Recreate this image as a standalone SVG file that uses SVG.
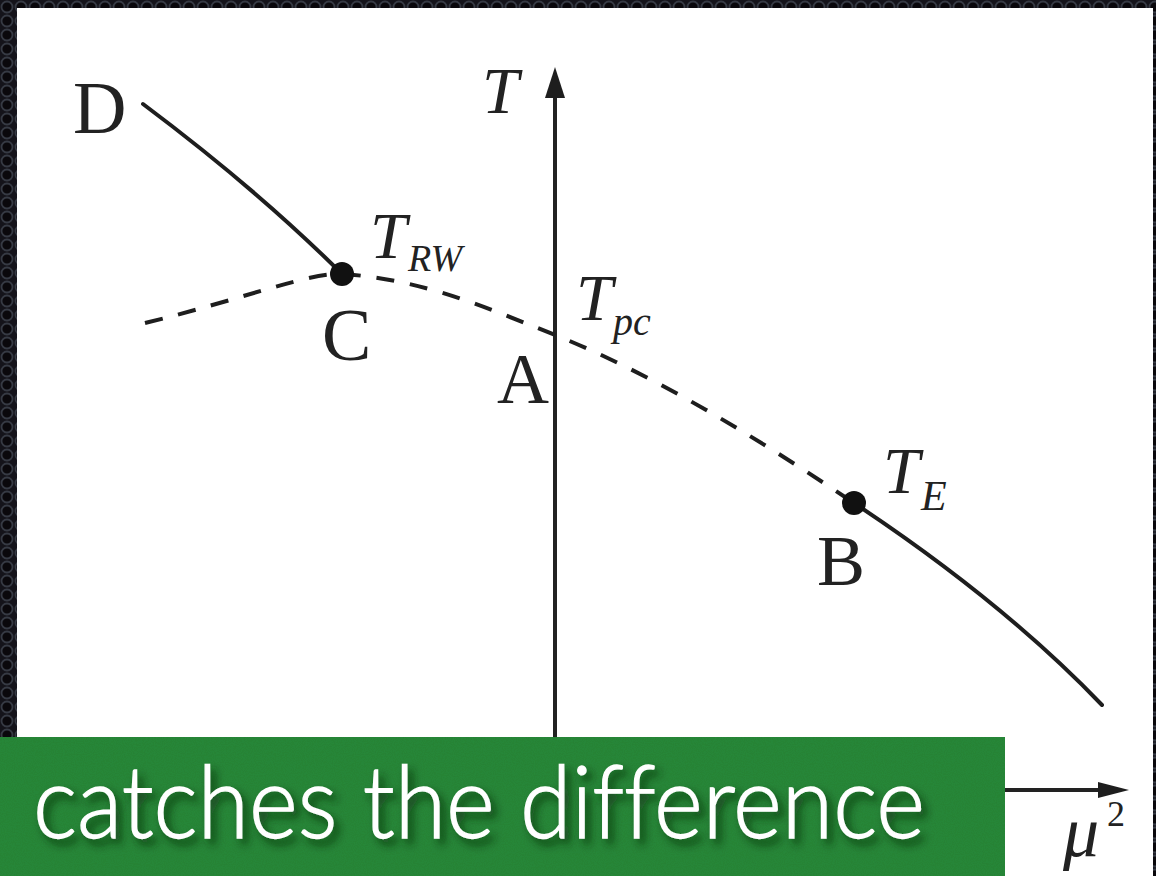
<svg xmlns="http://www.w3.org/2000/svg" width="1156" height="876" viewBox="0 0 1156 876">
  <defs>
    <pattern id="dots" x="0" y="0" width="14" height="14" patternUnits="userSpaceOnUse">
      <rect width="14" height="14" fill="#14131a"/>
      <circle cx="7" cy="7" r="5.5" fill="#0a080c" stroke="#363a44" stroke-width="1.8"/>
    </pattern>
    <filter id="noise" x="0" y="0" width="100%" height="100%">
      <feTurbulence type="fractalNoise" baseFrequency="0.9" numOctaves="2" seed="3" result="n"/>
      <feColorMatrix in="n" type="matrix" values="0 0 0 0 0  0 0 0 0 0  0 0 0 0 0  0 0 0 0.18 0" result="dark"/>
      <feComposite in="dark" in2="SourceGraphic" operator="in" result="d2"/>
      <feMerge><feMergeNode in="SourceGraphic"/><feMergeNode in="d2"/></feMerge>
    </filter>
    <filter id="shadow" x="-5%" y="-30%" width="110%" height="160%">
      <feDropShadow dx="5" dy="6" stdDeviation="4" flood-color="#0b2a10" flood-opacity="0.75"/>
    </filter>
  </defs>
  <style>
    .ax { stroke: #222; stroke-width: 4; fill: none; }
    .solid { stroke: #1e1e1e; stroke-width: 4; fill: none; stroke-linecap: round; }
    .dash { stroke: #1e1e1e; stroke-width: 4; fill: none; stroke-dasharray: 18 16; }
    .head { fill: #1e1e1e; }
    .dot { fill: #111; }
    .lbl { font-family: "Liberation Serif", "Times New Roman", serif; fill: #222; }
    .it { font-style: italic; }
    .cap { font-family: Lato, "Open Sans", sans-serif; font-weight: 300; font-size: 100px; fill: #ffffff; stroke: #ffffff; stroke-width: 1.3; font-variant-ligatures: none; }
  </style>

  <!-- background frame -->
  <rect x="0" y="0" width="1156" height="876" fill="url(#dots)"/>
  <rect x="17" y="8" width="1136" height="868" fill="#ffffff"/>

  <g id="connectors">
    <line class="ax" x1="555" y1="800" x2="555" y2="94"/>
    <polygon class="head" points="555,67 545,98 565,98"/>
    <line class="ax" x1="555" y1="790" x2="1100" y2="790"/>
    <polygon class="head" points="1129,790 1098,782 1098,798"/>
    <path class="solid" d="M143,104 Q259,191 342,274"/>
    <path class="dash" d="M145,323 C240,300 310,272 342,274 C420,279 480,305 555,335 C655,375 760,440 854,503"/>
    <path class="solid" d="M854,503 C940,560 1030,630 1102,705"/>
  </g>

  <g id="node-D">
    <text class="lbl" x="73" y="133" font-size="74">D</text>
  </g>
  <g id="node-T-axis">
    <text class="lbl it" x="482" y="113" font-size="66">T</text>
  </g>
  <g id="node-C">
    <circle class="dot" cx="342" cy="274" r="12"/>
    <text class="lbl it" x="370" y="258" font-size="66">T</text>
    <text class="lbl it" x="408" y="271" font-size="38">RW</text>
    <text class="lbl" x="322" y="360" font-size="74">C</text>
  </g>
  <g id="node-A">
    <text class="lbl it" x="576" y="320" font-size="66">T</text>
    <text class="lbl it" x="613" y="335" font-size="40">pc</text>
    <text class="lbl" x="497" y="403" font-size="72">A</text>
  </g>
  <g id="node-B">
    <circle class="dot" cx="854" cy="503" r="12"/>
    <text class="lbl it" x="883" y="493" font-size="66">T</text>
    <text class="lbl it" x="921" y="510" font-size="42">E</text>
    <text class="lbl" x="817" y="585" font-size="72">B</text>
  </g>
  <g id="node-mu">
    <text class="lbl it" x="1063" y="856" font-size="72">μ</text>
    <text class="lbl" x="1107" y="826" font-size="36">2</text>
  </g>

  <g id="caption">
    <rect x="0" y="737" width="1005" height="139" fill="#2a8b3b" filter="url(#noise)"/>
    <text class="cap" x="33" y="838" textLength="892" lengthAdjust="spacingAndGlyphs" filter="url(#shadow)">catches the difference</text>
  </g>
</svg>
